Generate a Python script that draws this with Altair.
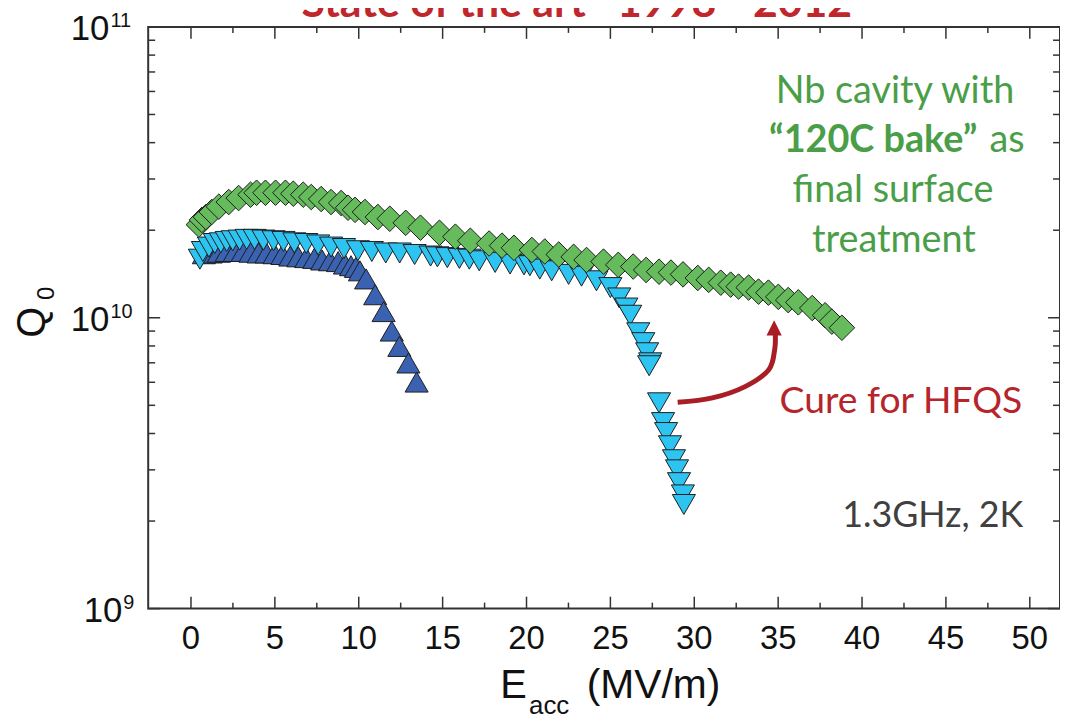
import altair as alt
import pandas as pd

# ---------------- data ----------------
green_E = [0.47, 0.65, 0.89, 1.24, 1.66, 2.25, 2.84, 3.55, 3.91, 4.44,
           5.04, 5.63, 6.10, 6.69, 7.17, 7.76, 8.35, 8.95, 9.36, 9.78,
           10.37, 11.14, 11.85, 12.80, 13.68, 14.81, 15.76, 16.65, 17.77, 18.54,
           19.25, 20.32, 21.09, 21.92, 22.81, 23.58, 24.59, 25.47, 26.36, 27.13,
           27.90, 28.61, 29.33, 30.21, 30.86, 31.58, 32.17, 32.64, 33.24, 33.83,
           34.42, 35.01, 35.60, 36.20, 37.03, 37.80, 38.20, 38.80]
green_Q = [2.09e10, 2.17e10, 2.22e10, 2.31e10, 2.41e10, 2.50e10, 2.58e10, 2.65e10, 2.69e10, 2.69e10,
           2.69e10, 2.69e10, 2.67e10, 2.65e10, 2.60e10, 2.56e10, 2.50e10, 2.48e10, 2.39e10, 2.35e10,
           2.31e10, 2.22e10, 2.19e10, 2.12e10, 2.04e10, 1.96e10, 1.90e10, 1.84e10, 1.80e10, 1.77e10,
           1.74e10, 1.71e10, 1.69e10, 1.65e10, 1.62e10, 1.58e10, 1.56e10, 1.52e10, 1.50e10, 1.46e10,
           1.44e10, 1.43e10, 1.41e10, 1.37e10, 1.35e10, 1.32e10, 1.30e10, 1.28e10, 1.27e10, 1.23e10,
           1.22e10, 1.18e10, 1.15e10, 1.13e10, 1.08e10, 1.02e10, 0.97e10, 0.924e10]

light_E = [0.53, 0.71, 1.07, 1.42, 1.78, 2.13, 2.49, 2.90, 3.32, 3.79,
           4.32, 4.92, 5.51, 6.16, 6.87, 7.58, 8.35, 9.12, 9.95, 10.78,
           11.61, 12.44, 13.33, 14.28, 14.69, 15.28, 16.00, 16.59, 17.18, 18.13,
           19.02, 19.85, 20.20, 20.79, 21.50, 22.51, 23.28, 24.17, 25.00, 25.53,
           25.95, 26.18, 26.66, 26.96, 27.19, 27.37, 27.31,
           27.90, 28.14, 28.32, 28.55, 28.79, 28.97, 29.09, 29.32, 29.38]
light_Q = [1.59e10, 1.69e10, 1.75e10, 1.80e10, 1.81e10, 1.83e10, 1.84e10, 1.85e10, 1.86e10, 1.86e10,
           1.85e10, 1.84e10, 1.83e10, 1.81e10, 1.80e10, 1.78e10, 1.75e10, 1.73e10, 1.70e10, 1.69e10,
           1.67e10, 1.67e10, 1.65e10, 1.63e10, 1.62e10, 1.61e10, 1.60e10, 1.59e10, 1.57e10, 1.55e10,
           1.53e10, 1.52e10, 1.51e10, 1.47e10, 1.45e10, 1.41e10, 1.39e10, 1.34e10, 1.27e10, 1.17e10,
           1.08e10, 1.02e10, 0.888e10, 0.821e10, 0.758e10, 0.700e10, 0.684e10,
           0.510e10, 0.436e10, 0.403e10, 0.363e10, 0.325e10, 0.300e10, 0.271e10, 0.246e10, 0.228e10]

dark_E = [0.77, 1.18, 1.66, 2.13, 2.61, 3.08, 3.55, 4.03, 4.50, 4.98,
          5.45, 5.92, 6.40, 6.87, 7.35, 7.82, 8.29, 8.77, 9.18, 9.54,
          9.83, 10.07, 10.44, 10.98, 11.48, 11.97, 12.42, 12.96, 13.45]
dark_Q = [1.66e10, 1.67e10, 1.68e10, 1.69e10, 1.69e10, 1.69e10, 1.68e10, 1.67e10, 1.67e10, 1.66e10,
          1.65e10, 1.63e10, 1.62e10, 1.61e10, 1.60e10, 1.58e10, 1.57e10, 1.56e10, 1.53e10, 1.51e10,
          1.49e10, 1.45e10, 1.36e10, 1.20e10, 1.05e10, 0.900e10, 0.797e10, 0.699e10, 0.601e10]

# curved "cure" arrow (data coordinates)
arrow_E = [29.01, 31.08, 33.06, 34.44, 34.79, 34.83]
arrow_Q = [0.512e10, 0.530e10, 0.581e10, 0.663e10, 0.776e10, 0.874e10]
arrowhead_E = [34.76]
arrowhead_Q = [0.905e10]

# axis ticks / labels
x_major = [0, 5, 10, 15, 20, 25, 30, 35, 40, 45, 50]
x_labels = ["0", "5", "10", "15", "20", "25", "30", "35", "40", "45", "50"]
x_minor = [2.5, 7.5, 12.5, 17.5, 22.5, 27.5, 32.5, 37.5, 42.5, 47.5]
y_major = [1e9, 1e10, 1e11]
y_exp = ["9", "10", "11"]
y_minor = [2e9, 3e9, 4e9, 5e9, 6e9, 7e9, 8e9, 9e9,
           2e10, 3e10, 4e10, 5e10, 6e10, 7e10, 8e10, 9e10]

# ---------------- layout ----------------
W, H = 917, 585
xs = alt.Scale(domain=[-2.55, 51.8], nice=False, zero=False)
ys = alt.Scale(type="log", domain=[1e9, 1e11], nice=False)
AX = "#333333"
FONT = "Liberation Sans"
ANN = "Lato"

def X(f):
    return alt.X(f, type="quantitative", scale=xs, axis=None)

def Y(f):
    return alt.Y(f, type="quantitative", scale=ys, axis=None)

df_green = pd.DataFrame({"E": green_E, "Q": green_Q})
df_light = pd.DataFrame({"E": light_E, "Q": light_Q})
df_dark = pd.DataFrame({"E": dark_E, "Q": dark_Q})
df_arrow = pd.DataFrame({"E": arrow_E, "Q": arrow_Q, "i": list(range(len(arrow_E)))})
df_head = pd.DataFrame({"E": arrowhead_E, "Q": arrowhead_Q})
df_xmaj = pd.DataFrame({"v": x_major, "t": x_labels})
df_xmin = pd.DataFrame({"v": x_minor})
df_ymaj = pd.DataFrame({"v": y_major, "e": y_exp})
df_ymin = pd.DataFrame({"v": y_minor})
one = pd.DataFrame({"a": [0]})

# tick marks (inward)
def xticks(df, L):
    b = alt.Chart(df).mark_rule(color=AX, strokeWidth=1.5).encode(
        x=X("v"), y=alt.value(H), y2=alt.value(H - L))
    t = alt.Chart(df).mark_rule(color=AX, strokeWidth=1.5).encode(
        x=X("v"), y=alt.value(0), y2=alt.value(L))
    return [b, t]

def yticks(df, L):
    l = alt.Chart(df).mark_rule(color=AX, strokeWidth=1.5).encode(
        y=Y("v"), x=alt.value(0), x2=alt.value(L))
    r = alt.Chart(df).mark_rule(color=AX, strokeWidth=1.5).encode(
        y=Y("v"), x=alt.value(W), x2=alt.value(W - L))
    return [l, r]

layers = []
layers += xticks(df_xmaj, 12) + xticks(df_xmin, 6)
layers += yticks(df_ymaj, 12) + yticks(df_ymin, 7)

# x tick labels
layers.append(alt.Chart(df_xmaj).mark_text(
    align="center", baseline="alphabetic", font=FONT, fontSize=33, color="#111111"
).encode(x=X("v"), y=alt.value(H + 41), text="t:N"))

# y tick labels 10^n
for filt, xpos in [("length(datum.e) == 1", -26), ("length(datum.e) == 2", -39)]:
    layers.append(alt.Chart(df_ymaj).transform_filter(filt).mark_text(
        align="right", baseline="alphabetic", dy=13, font=FONT, fontSize=35, color="#111111"
    ).encode(y=Y("v"), x=alt.value(xpos), text=alt.value("10")))
    layers.append(alt.Chart(df_ymaj).transform_filter(filt).mark_text(
        align="left", baseline="alphabetic", dy=0, font=FONT, fontSize=20, color="#111111"
    ).encode(y=Y("v"), x=alt.value(xpos + 1), text="e:N"))

# data series
MS = "#1e1e1e"
layers.append(alt.Chart(df_dark).mark_point(
    shape="triangle-up", size=540, filled=True, fill="#3A62B0", stroke=MS, strokeWidth=1, opacity=1
).encode(x=X("E"), y=Y("Q")))
layers.append(alt.Chart(df_light).mark_point(
    shape="triangle-down", size=540, filled=True, fill="#2EC4F2", stroke=MS, strokeWidth=1, opacity=1
).encode(x=X("E"), y=Y("Q")))
layers.append(alt.Chart(df_green).mark_point(
    shape="diamond", size=660, filled=True, fill="#66BB5C", stroke=MS, strokeWidth=1, opacity=1
).encode(x=X("E"), y=Y("Q")))

# arrow
RED = "#A81E24"
layers.append(alt.Chart(df_arrow).mark_line(color=RED, strokeWidth=5, interpolate="cardinal").encode(
    x=X("E"), y=Y("Q"), order="i:Q"))
layers.append(alt.Chart(df_head).mark_point(
    shape="M0,-1L0.75,0.5L-0.75,0.5Z", size=420, filled=True, fill=RED, opacity=1, strokeWidth=0
).encode(x=X("E"), y=Y("Q")))

# text annotations (pixel positions relative to plot area)
def txt(s, x, y, size, color, align="center", weight="normal", font=ANN, angle=0, baseline="alphabetic"):
    return alt.Chart(one).mark_text(
        text=s, align=align, baseline=baseline, fontSize=size, font=font, color=color,
        fontWeight=weight, angle=angle
    ).encode(x=alt.value(x), y=alt.value(y))

GREEN_T = "#4A9E48"
layers += [
    txt("Nb cavity with", 751, 77, 38, GREEN_T),
    txt("\u201c120C bake\u201d", 834, 126, 38, GREEN_T, align="right", weight="bold"),
    txt("as", 846, 126, 38, GREEN_T, align="left"),
    txt("final surface", 749, 176, 38, GREEN_T),
    txt("treatment", 750, 226, 38, GREEN_T),
    txt("Cure for HFQS", 757, 388, 37.5, "#B5252B"),
    txt("1.3GHz, 2K", 789, 503, 36, "#404040"),
    txt("State of the art\u00a0\u00a0 1998 - 2012", 431, -10, 43, "#C0272D", weight="bold"),
    # axis titles
    txt("E", 354, 675, 40, "#111111", align="left", font=FONT),
    txt("acc", 383, 691, 26, "#111111", align="left", font=FONT),
    txt("(MV/m)", 441, 675, 41, "#111111", align="left", font=FONT),
    txt("Q", -116, 297, 40, "#111111", font=FONT, angle=270, baseline="middle"),
    txt("0", -102, 268, 24, "#111111", font=FONT, angle=270, baseline="middle"),
]

chart = alt.layer(*layers).properties(
    width=W, height=H,
    autosize=alt.AutoSizeParams(type="none"),
    padding={"left": 141, "top": 17, "right": 0, "bottom": 109},
    background="white",
).configure_view(stroke=AX, strokeWidth=2)

chart.save("out.html", embed_options={"renderer": "svg", "actions": False})
